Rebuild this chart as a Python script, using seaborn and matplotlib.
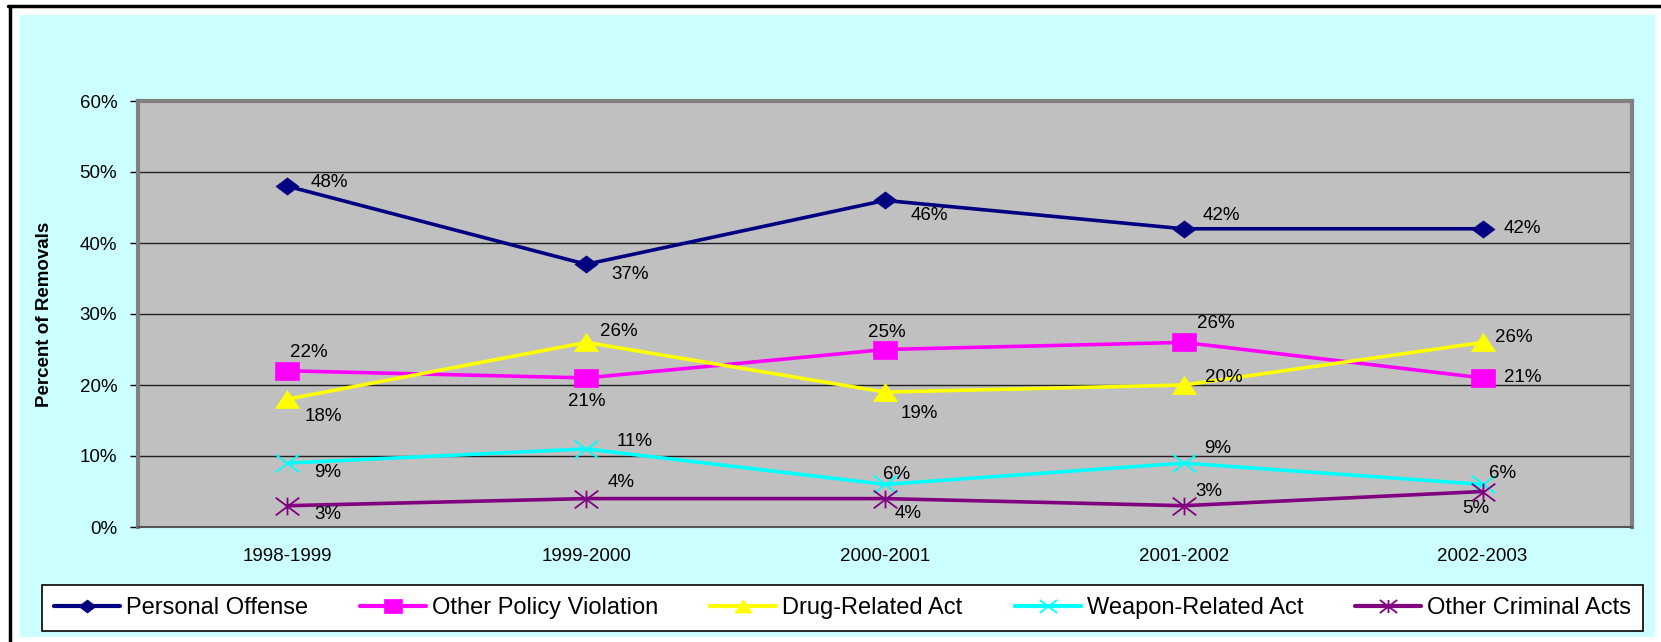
import matplotlib
matplotlib.use("Agg")
import matplotlib.pyplot as plt
import seaborn as sns
import pandas as pd
import numpy as np
from matplotlib.patches import Rectangle
from matplotlib.path import Path
from matplotlib.ticker import FixedLocator, PercentFormatter

# ---- data ----
years = ["1998-1999", "1999-2000", "2000-2001", "2001-2002", "2002-2003"]
series_names = ["Personal Offense", "Other Policy Violation", "Drug-Related Act",
                "Weapon-Related Act", "Other Criminal Acts"]
personal_offense = [48, 37, 46, 42, 42]
other_policy = [22, 21, 25, 26, 21]
drug_related = [18, 26, 19, 20, 26]
weapon_related = [9, 11, 6, 9, 6]
other_criminal = [3, 4, 4, 3, 5]
y_ticks = [0, 10, 20, 30, 40, 50, 60]

# ---- styles ----
colors = ["#000080", "#FF00FF", "#FFFF00", "#00FFFF", "#800080"]
a = 0.75  # markers are wider than tall in the original
m_diamond = Path([(0, -a), (1, 0), (0, a), (-1, 0), (0, -a)],
                 [Path.MOVETO, Path.LINETO, Path.LINETO, Path.LINETO, Path.CLOSEPOLY])
m_square = Path([(-1, -a), (1, -a), (1, a), (-1, a), (-1, -a)],
                [Path.MOVETO, Path.LINETO, Path.LINETO, Path.LINETO, Path.CLOSEPOLY])
m_tri = Path([(-1, -a), (1, -a), (0, a), (-1, -a)],
             [Path.MOVETO, Path.LINETO, Path.LINETO, Path.CLOSEPOLY])
m_x = Path([(-1, -a), (1, a), (-1, a), (1, -a)],
           [Path.MOVETO, Path.LINETO, Path.MOVETO, Path.LINETO])
m_star = Path([(-1, -a), (1, a), (-1, a), (1, -a), (0, -a), (0, a)],
              [Path.MOVETO, Path.LINETO, Path.MOVETO, Path.LINETO, Path.MOVETO, Path.LINETO])
markers = [m_diamond, m_square, m_tri, m_x, m_star]
filled = [True, True, True, False, False]
msizes = [16.5, 17.3, 17.3, 17.0, 17.0]
# label offsets (pixels) per series, per point
offsets = [
    [(42, 4), (44, -10), (44, -15), (38, 13), (40, 0)],
    [(21, 18), (1, -24), (2, 17), (32, 19), (40, 0)],
    [(36, -17), (33, 11), (34, -21), (40, 8), (31, 5)],
    [(40, -9), (48, 7), (12, 10), (34, 15), (20, 11)],
    [(40, -9), (35, 16), (23, -15), (25, 14), (-7, -17)],
]

all_values = [personal_offense, other_policy, drug_related, weapon_related, other_criminal]
df = pd.DataFrame({
    "Year": np.tile(years, len(series_names)),
    "x": np.tile(np.arange(len(years)), len(series_names)),
    "Series": np.repeat(series_names, len(years)),
    "Value": np.concatenate(all_values),
})

sns.set_style("white")
plt.rcParams["font.family"] = ["Liberation Sans", "DejaVu Sans"]

W, H = 1661, 642
fig = plt.figure(figsize=(W / 100, H / 100), dpi=100)
fig.patch.set_facecolor("white")
# cyan chart area and black frame
fig.patches.append(Rectangle((20 / W, 1 - 637 / H), (1655 - 20) / W, (637 - 15) / H,
                             transform=fig.transFigure, facecolor="#CCFFFF",
                             edgecolor="none", zorder=-5))
fig.lines.append(plt.Line2D([9.5 / W, 9.5 / W], [0, 1 - 6 / H], transform=fig.transFigure,
                            color="black", lw=2.5, zorder=-4))
fig.lines.append(plt.Line2D([8 / W, 1], [1 - 6 / H, 1 - 6 / H], transform=fig.transFigure,
                            color="black", lw=2.5, zorder=-4))

ax = fig.add_axes([138 / W, 1 - 527 / H, (1632 - 138) / W, (527 - 101) / H])
ax.set_zorder(1)
ax.set_facecolor("#C0C0C0")

for i, name in enumerate(series_names):
    sub = df[df["Series"] == name]
    sns.lineplot(data=sub, x="x", y="Value", ax=ax, color=colors[i], marker=markers[i],
                 markersize=msizes[i], markeredgecolor=colors[i],
                 markerfacecolor=colors[i] if filled[i] else "none",
                 markeredgewidth=1.3 if not filled[i] else 0.5, linewidth=2.6,
                 label=name, legend=False, zorder=3)
    for j, v in enumerate(all_values[i]):
        ax.annotate(f"{v}%", (j, v), xytext=offsets[i][j], textcoords="offset pixels",
                    ha="center", va="center", fontsize=13.5, color="black", zorder=4)

ax.set_xlim(-0.5, len(years) - 0.5)
ax.set_ylim(0, 60)
ax.yaxis.set_major_locator(FixedLocator(y_ticks))
ax.yaxis.set_major_formatter(PercentFormatter(decimals=0))
ax.grid(axis="y", color="#202020", linewidth=1, zorder=1)
ax.set_axisbelow(True)
ax.set_xticks(np.arange(len(years)))
ax.set_xticklabels(years)
ax.set_xticks(np.arange(-0.5, len(years)), minor=True)
ax.tick_params(axis="x", which="major", length=0, pad=15, labelsize=13.5, labelcolor="black")
ax.tick_params(axis="x", which="minor", length=6, width=1, color="black", direction="out")
ax.tick_params(axis="y", length=6, width=1, color="black", direction="out", labelsize=13.5,
               left=True, pad=9, labelcolor="black")
ax.set_xlabel("")
ax.set_ylabel("Percent of Removals", fontsize=13.5, fontweight="bold", color="black")
ax.yaxis.set_label_coords(-0.057, 0.5)
for s in ["top", "right", "left"]:
    ax.spines[s].set_color("#808080")
    ax.spines[s].set_linewidth(3)
ax.spines["bottom"].set_color("#555555")
ax.spines["bottom"].set_linewidth(1.5)

handles, labels = ax.get_legend_handles_labels()
leg = fig.legend(handles, labels, loc="lower left", ncol=5, mode="expand",
                 bbox_to_anchor=(42 / W, 1 - 631 / H, (1643 - 42) / W, (631 - 581) / H),
                 frameon=True, fancybox=False, edgecolor="black", facecolor="white",
                 framealpha=1, fontsize=17, handlelength=2.8, handletextpad=0.25,
                 borderpad=0.5, columnspacing=0.8, borderaxespad=0)
leg.get_frame().set_linewidth(1.2)
for h in leg.legend_handles:
    h.set_markersize(12.5)
    h.set_linewidth(3)
for t in leg.get_texts():
    t.set_color("black")

fig.savefig("out.png", dpi=100, facecolor=fig.get_facecolor())
